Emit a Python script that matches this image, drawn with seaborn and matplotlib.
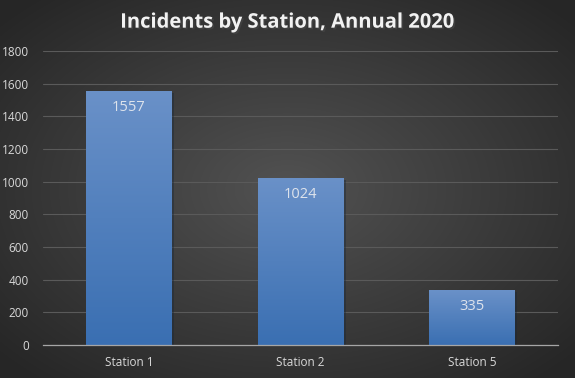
import numpy as np
import pandas as pd
import matplotlib.pyplot as plt
import matplotlib.patheffects as pe
import seaborn as sns

stations = ["Station 1", "Station 2", "Station 5"]
incidents = [1557, 1024, 335]
y_ticks = [0, 200, 400, 600, 800, 1000, 1200, 1400, 1600, 1800]

sns.set_theme(style="dark")
plt.rcParams['font.family'] = ['Open Sans', 'DejaVu Sans']

data = pd.DataFrame({"Station": stations, "Incidents": incidents})

fig = plt.figure(figsize=(5.75, 3.78), dpi=100)

# radial background
bg = fig.add_axes([0, 0, 1, 1], zorder=-10)
yy, xx = np.mgrid[-1:1:378j, -1:1:575j]
r = np.sqrt(xx ** 2 + yy ** 2)
bg.imshow(np.clip(r / 1.35, 0, 1), cmap=sns.blend_palette(["#525252", "#262626"], as_cmap=True),
          vmin=0, vmax=1, aspect="auto", extent=[0, 1, 0, 1])
bg.set_axis_off()

ax = fig.add_axes([0.0748, 0.0873, 0.8957, 0.778])
ax.set_facecolor("none")
sns.barplot(ax=ax, data=data, x="Station", y="Incidents", color="#4f81bd", width=0.5,
            saturation=1, linewidth=0, edgecolor="none", zorder=3)
ax.set_yticks(y_ticks)
ax.set(xlabel=None, ylabel=None)

# gradient fill on bars
grad = np.linspace(0, 1, 256).reshape(-1, 1)
bar_cmap = sns.blend_palette(["#3a6fb2", "#6a91c8"], as_cmap=True)
for p, v in zip(ax.patches, incidents):
    x0, w = p.get_x(), p.get_width()
    im = ax.imshow(grad, cmap=bar_cmap, aspect="auto", origin="lower",
                   extent=[x0, x0 + w, 0, v], zorder=4)
    im.set_clip_path(p)
    p.set_path_effects([pe.SimplePatchShadow(offset=(1.5, -1.5), alpha=0.4), pe.Normal()])
    ax.text(x0 + w / 2, v - 55, str(v), ha="center", va="top", color="#dde3ec",
            fontsize=10.5, zorder=5)
ax.set_xlim(-0.5, 2.5)
ax.set_ylim(0, 1800)

ax.grid(axis="y", color="#5a5a5a", linewidth=0.8, zorder=0)
ax.grid(axis="x", visible=False)
for s in ["top", "right", "left"]:
    ax.spines[s].set_visible(False)
ax.spines["bottom"].set_color("#a6a6a6")
ax.spines["bottom"].set_linewidth(0.9)
ax.spines["bottom"].set_zorder(6)
ax.tick_params(axis="both", colors="#d9d9d9", labelsize=8.5, length=0, pad=8)
ax.tick_params(axis="y", pad=10)

fig.text(0.5, 0.94, "Incidents by Station, Annual 2020", ha="center", va="center",
         color="#f2f2f2", fontsize=14.5, fontweight="bold",
         path_effects=[pe.withSimplePatchShadow(offset=(1.2, -1.2), alpha=0.6)])

plt.savefig("out.png", dpi=100)
